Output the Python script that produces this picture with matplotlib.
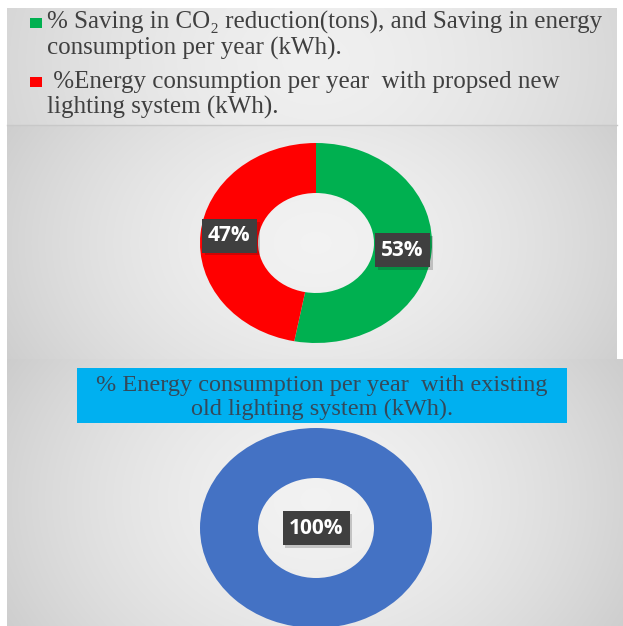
import numpy as np
import matplotlib
matplotlib.use('Agg')
import matplotlib.pyplot as plt
from matplotlib.patches import Rectangle
import matplotlib.patheffects as pe

W, H = 623, 626

# proposed vs. saving split
new_labels = ['% Saving in CO\u2082 reduction(tons), and Saving in energy\nconsumption per year (kWh).',
              ' %Energy consumption per year  with propsed new\nlighting system (kWh).']
new_values = [53, 47]
new_colors = ['#00B050', '#FF0000']

# existing system
old_title = '% Energy consumption per year  with existing\nold lighting system (kWh).'
old_values = [100]
old_colors = ['#4472C4']

serif = ['Liberation Serif', 'DejaVu Serif']
label_font = ['Open Sans', 'DejaVu Sans']


def px_axes(fig, left, top, width, height):
    # axes placed by pixel box, origin at top-left of the image
    return fig.add_axes([left / W, 1 - (top + height) / H, width / W, height / H])


def radial(ax, x0, x1, y0, y1, cx, cy, c_in, c_out, sx, sy):
    xs = np.arange(x0, x1) + 0.5
    ys = np.arange(y0, y1) + 0.5
    X, Y = np.meshgrid(xs, ys)
    r = np.sqrt(((X - cx) / sx) ** 2 + ((Y - cy) / sy) ** 2)
    r = np.clip(r, 0, 1)
    img = c_in + (c_out - c_in) * r[..., None] ** 1.6
    ax.imshow(img, extent=(x0, x1, y1, y0), interpolation='bilinear', zorder=1)


fig = plt.figure(figsize=(W / 100, H / 100), dpi=100, facecolor='white')

bg = fig.add_axes([0, 0, 1, 1])
bg.axis('off')

light = np.array([0.95, 0.95, 0.95])
dark = np.array([0.80, 0.80, 0.80])
radial(bg, 7, 617, 8, 125, 316, 60, np.array([0.94, 0.94, 0.94]), np.array([0.83, 0.83, 0.83]), 340, 260)
radial(bg, 7, 617, 125, 359, 316, 243, light, dark, 360, 260)
radial(bg, 7, 623, 359, 626, 316, 500, light, dark, 360, 280)
bg.plot([7, 617], [125, 125], color='#c8c8c8', lw=1, zorder=2)
bg.set_xlim(0, W)
bg.set_ylim(H, 0)

# legend entries
marker_y = [18, 77]
text_y = [29, 88]
for i, (lab, col) in enumerate(zip(new_labels, new_colors)):
    bg.add_patch(Rectangle((30, marker_y[i]), 12, 10, facecolor=col, edgecolor='none', zorder=3))
    for j, line in enumerate(lab.split('\n')):
        bg.text(47, text_y[i] + 26 * j, line, family=serif, fontsize=18, color='#404040',
                ha='left', va='baseline', zorder=3)

# title box for the existing system
bg.add_patch(Rectangle((77, 368), 490, 55, facecolor='#00B0F0', edgecolor='none', zorder=3))
for j, line in enumerate(old_title.split('\n')):
    bg.text(322, 391 + 24 * j, line, family=serif, fontsize=17.5, color='#34495a',
            ha='center', va='baseline', zorder=4)


def label_box(ax, x, y, s):
    t = ax.text(x, y, s, fontsize=15, fontweight='bold', family=label_font, color='white',
                ha='center', va='center', zorder=5,
                bbox=dict(boxstyle='square,pad=0.3', facecolor='#3f3f3f', edgecolor='none'))
    t.get_bbox_patch().set_path_effects([pe.SimplePatchShadow(offset=(2, -2), alpha=0.2),
                                         pe.Normal()])


def donut(ax, values, colors):
    wedges, _ = ax.pie(values, colors=colors, startangle=90, counterclock=False, radius=1,
                       wedgeprops=dict(width=0.5, edgecolor='none'))
    ax.set_xlim(-1, 1)
    ax.set_ylim(-1, 1)
    ax.set_aspect('auto')
    ax.axis('off')
    return wedges


ax1 = px_axes(fig, 200, 143, 232, 200)
ws = donut(ax1, new_values, new_colors)
for w, v in zip(ws, new_values):
    mid = np.deg2rad((w.theta1 + w.theta2) / 2)
    label_box(ax1, 0.75 * np.cos(mid), 0.75 * np.sin(mid), f'{v}%')

ax2 = px_axes(fig, 200, 428, 232, 200)
donut(ax2, old_values, old_colors)
label_box(ax2, 0, 0, f'{old_values[0]}%')

fig.savefig('out.png', dpi=100, facecolor='white')
